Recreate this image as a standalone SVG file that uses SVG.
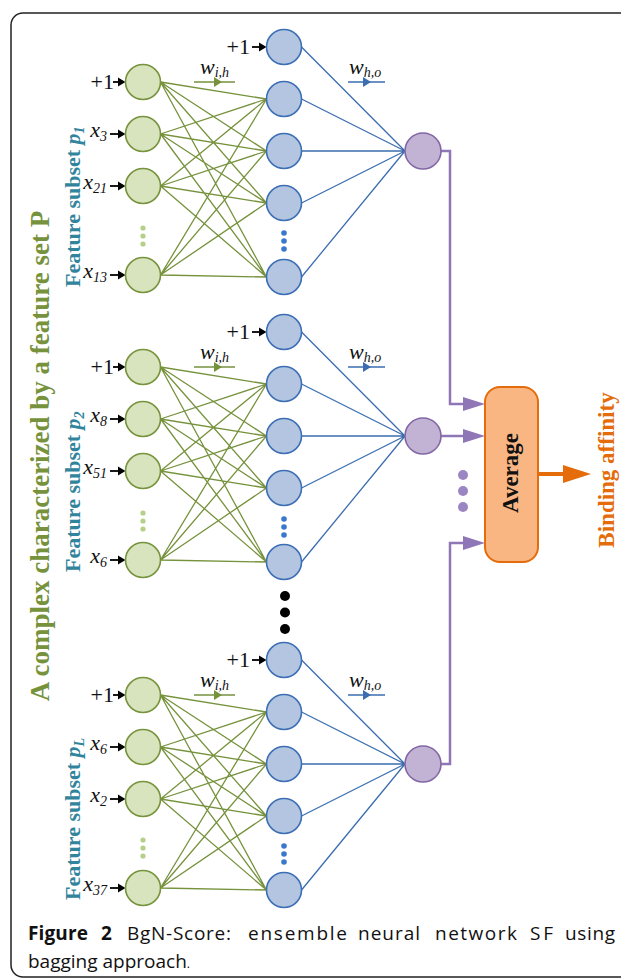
<svg xmlns="http://www.w3.org/2000/svg" width="621" height="979" viewBox="0 0 621 979">
<style>
.gn{fill:#d7e4bd;stroke:#77933c;stroke-width:1.6}
.bn{fill:#b3c5e0;stroke:#3d6fb5;stroke-width:1.6}
.pn{fill:#c2b3d4;stroke:#8266a6;stroke-width:1.6}
.gl{fill:none;stroke:#76923c;stroke-width:1.3}
.bl{fill:none;stroke:#3b6db0;stroke-width:1.3}
.pl{fill:none;stroke:#8f76b6;stroke-width:2.5}
.ka{stroke:#000;stroke-width:1.8}
.ser{font-family:"Liberation Serif","Times New Roman",serif;fill:#111}
.lbl{font-size:22px}
.it{font-style:italic}
.sub{font-size:14px;font-style:italic}
.fs{font-family:"Liberation Serif","Times New Roman",serif;font-weight:bold;font-size:22px;fill:#31849b}
.cap{font-family:"Open Sans","Noto Sans","DejaVu Sans",sans-serif;font-size:19px;fill:#111}
</style>
<rect x="11" y="13" width="625" height="964" rx="12" fill="none" stroke="#222" stroke-width="1.5"/>

<!-- side labels -->
<text transform="translate(49,456) rotate(-90)" text-anchor="middle" font-family="Liberation Serif,Times New Roman,serif" font-weight="bold" font-size="27" fill="#76923c">A complex characterized by a feature set P</text>
<text class="fs" transform="translate(80,287) rotate(-90)">Feature subset <tspan font-style="italic">p</tspan><tspan font-size="14" font-style="italic" dy="4">1</tspan></text>
<text class="fs" transform="translate(80,572) rotate(-90)">Feature subset <tspan font-style="italic">p</tspan><tspan font-size="14" font-style="italic" dy="4">2</tspan></text>
<text class="fs" transform="translate(80,900) rotate(-90)">Feature subset <tspan font-style="italic">p</tspan><tspan font-size="14" font-style="italic" dy="4">L</tspan></text>

<g id="connectors">
<path class="gl" d="M160.5 82L266.5 99M160.5 82L266.5 151M160.5 82L266.5 203M160.5 82L266.5 277M160.5 134L266.5 99M160.5 134L266.5 151M160.5 134L266.5 203M160.5 134L266.5 277M160.5 186L266.5 99M160.5 186L266.5 151M160.5 186L266.5 203M160.5 186L266.5 277M160.5 275L266.5 99M160.5 275L266.5 151M160.5 275L266.5 203M160.5 275L266.5 277"/>
<path class="gl" d="M160.5 367L266.5 384M160.5 367L266.5 436M160.5 367L266.5 488M160.5 367L266.5 562M160.5 419L266.5 384M160.5 419L266.5 436M160.5 419L266.5 488M160.5 419L266.5 562M160.5 471L266.5 384M160.5 471L266.5 436M160.5 471L266.5 488M160.5 471L266.5 562M160.5 560L266.5 384M160.5 560L266.5 436M160.5 560L266.5 488M160.5 560L266.5 562"/>
<path class="gl" d="M160.5 695L266.5 712M160.5 695L266.5 764M160.5 695L266.5 816M160.5 695L266.5 890M160.5 747L266.5 712M160.5 747L266.5 764M160.5 747L266.5 816M160.5 747L266.5 890M160.5 799L266.5 712M160.5 799L266.5 764M160.5 799L266.5 816M160.5 799L266.5 890M160.5 888L266.5 712M160.5 888L266.5 764M160.5 888L266.5 816M160.5 888L266.5 890"/>
<path class="bl" d="M301.5 47L405 151M301.5 99L405 151M301.5 151L405 151M301.5 203L405 151M301.5 277L405 151"/>
<path class="bl" d="M301.5 332L405 436M301.5 384L405 436M301.5 436L405 436M301.5 488L405 436M301.5 562L405 436"/>
<path class="bl" d="M301.5 660L405 764M301.5 712L405 764M301.5 764L405 764M301.5 816L405 764M301.5 890L405 764"/>
<!-- input arrows -->
<g fill="#000">
<line class="ka" x1="113" y1="82" x2="120" y2="82"/><polygon points="118,77.5 125.5,82 118,86.5"/>
<line class="ka" x1="110" y1="134" x2="120" y2="134"/><polygon points="118,129.5 125.5,134 118,138.5"/>
<line class="ka" x1="110" y1="186" x2="120" y2="186"/><polygon points="118,181.5 125.5,186 118,190.5"/>
<line class="ka" x1="110" y1="275" x2="120" y2="275"/><polygon points="118,270.5 125.5,275 118,279.5"/>
<line class="ka" x1="252" y1="47" x2="261" y2="47"/><polygon points="259,42.5 266.5,47 259,51.5"/>
<line class="ka" x1="113" y1="367" x2="120" y2="367"/><polygon points="118,362.5 125.5,367 118,371.5"/>
<line class="ka" x1="110" y1="419" x2="120" y2="419"/><polygon points="118,414.5 125.5,419 118,423.5"/>
<line class="ka" x1="110" y1="471" x2="120" y2="471"/><polygon points="118,466.5 125.5,471 118,475.5"/>
<line class="ka" x1="110" y1="560" x2="120" y2="560"/><polygon points="118,555.5 125.5,560 118,564.5"/>
<line class="ka" x1="252" y1="332" x2="261" y2="332"/><polygon points="259,327.5 266.5,332 259,336.5"/>
<line class="ka" x1="113" y1="695" x2="120" y2="695"/><polygon points="118,690.5 125.5,695 118,699.5"/>
<line class="ka" x1="110" y1="747" x2="120" y2="747"/><polygon points="118,742.5 125.5,747 118,751.5"/>
<line class="ka" x1="110" y1="799" x2="120" y2="799"/><polygon points="118,794.5 125.5,799 118,803.5"/>
<line class="ka" x1="110" y1="888" x2="120" y2="888"/><polygon points="118,883.5 125.5,888 118,892.5"/>
<line class="ka" x1="252" y1="660" x2="261" y2="660"/><polygon points="259,655.5 266.5,660 259,664.5"/>
</g>
<!-- weight marks -->
<g>
<line x1="194" y1="82" x2="235" y2="82" stroke="#76923c" stroke-width="1.5"/><polygon points="214,77 222,82 214,87" fill="#76923c"/>
<line x1="348" y1="82" x2="385" y2="82" stroke="#3b6db0" stroke-width="1.5"/><polygon points="363,77 371,82 363,87" fill="#3b6db0"/>
<line x1="194" y1="367" x2="235" y2="367" stroke="#76923c" stroke-width="1.5"/><polygon points="214,362 222,367 214,372" fill="#76923c"/>
<line x1="348" y1="367" x2="385" y2="367" stroke="#3b6db0" stroke-width="1.5"/><polygon points="363,362 371,367 363,372" fill="#3b6db0"/>
<line x1="194" y1="695" x2="235" y2="695" stroke="#76923c" stroke-width="1.5"/><polygon points="214,690 222,695 214,700" fill="#76923c"/>
<line x1="348" y1="695" x2="385" y2="695" stroke="#3b6db0" stroke-width="1.5"/><polygon points="363,690 371,695 363,700" fill="#3b6db0"/>
</g>
<!-- purple to average -->
<polyline class="pl" points="441,151 450,151 450,404 466,404"/><polygon points="463,397 485,404 463,411" fill="#8f76b6"/>
<line class="pl" x1="441" y1="436" x2="466" y2="436"/><polygon points="463,429 485,436 463,443" fill="#8f76b6"/>
<polyline class="pl" points="441,764 450,764 450,543 466,543"/><polygon points="463,536 485,543 463,550" fill="#8f76b6"/>
<!-- output arrow -->
<line x1="538" y1="474" x2="566" y2="474" stroke="#e46c0a" stroke-width="4"/><polygon points="563,465 591,474 563,483" fill="#e46c0a"/>
</g>

<!-- ellipsis dots -->
<g fill="#b6d08a"><circle cx="143" cy="228" r="2.6"/><circle cx="143" cy="236" r="2.6"/><circle cx="143" cy="244" r="2.6"/>
<circle cx="143" cy="513" r="2.6"/><circle cx="143" cy="521" r="2.6"/><circle cx="143" cy="529" r="2.6"/>
<circle cx="143" cy="840" r="2.6"/><circle cx="143" cy="848" r="2.6"/><circle cx="143" cy="856" r="2.6"/></g>
<g fill="#3a78cc"><circle cx="284" cy="233" r="2.8"/><circle cx="284" cy="241" r="2.8"/><circle cx="284" cy="249" r="2.8"/>
<circle cx="284" cy="519" r="2.8"/><circle cx="284" cy="527" r="2.8"/><circle cx="284" cy="535" r="2.8"/>
<circle cx="284" cy="846" r="2.8"/><circle cx="284" cy="854" r="2.8"/><circle cx="284" cy="862" r="2.8"/></g>
<g fill="#000"><circle cx="285" cy="596" r="5"/><circle cx="285" cy="612.5" r="5"/><circle cx="285" cy="629" r="5"/></g>
<g fill="#9a86c2"><circle cx="463" cy="475" r="5"/><circle cx="463" cy="491" r="5"/><circle cx="463" cy="507" r="5"/></g>

<!-- labels -->
<g class="ser lbl">
<text x="114" y="89" text-anchor="end">+1</text>
<text x="107" y="137" text-anchor="end" class="it">x<tspan class="sub" dy="4">3</tspan></text>
<text x="107" y="189" text-anchor="end" class="it">x<tspan class="sub" dy="4">21</tspan></text>
<text x="107" y="278" text-anchor="end" class="it">x<tspan class="sub" dy="4">13</tspan></text>
<text x="250" y="54" text-anchor="end">+1</text>
<text x="114" y="374" text-anchor="end">+1</text>
<text x="107" y="422" text-anchor="end" class="it">x<tspan class="sub" dy="4">8</tspan></text>
<text x="107" y="474" text-anchor="end" class="it">x<tspan class="sub" dy="4">51</tspan></text>
<text x="107" y="563" text-anchor="end" class="it">x<tspan class="sub" dy="4">6</tspan></text>
<text x="250" y="339" text-anchor="end">+1</text>
<text x="114" y="702" text-anchor="end">+1</text>
<text x="107" y="750" text-anchor="end" class="it">x<tspan class="sub" dy="4">6</tspan></text>
<text x="107" y="802" text-anchor="end" class="it">x<tspan class="sub" dy="4">2</tspan></text>
<text x="107" y="891" text-anchor="end" class="it">x<tspan class="sub" dy="4">37</tspan></text>
<text x="250" y="667" text-anchor="end">+1</text>
<text x="200" y="74" class="it">w<tspan class="sub" dy="3">i,h</tspan></text>
<text x="349" y="74" class="it">w<tspan class="sub" dy="3">h,o</tspan></text>
<text x="200" y="359" class="it">w<tspan class="sub" dy="3">i,h</tspan></text>
<text x="349" y="359" class="it">w<tspan class="sub" dy="3">h,o</tspan></text>
<text x="200" y="687" class="it">w<tspan class="sub" dy="3">i,h</tspan></text>
<text x="349" y="687" class="it">w<tspan class="sub" dy="3">h,o</tspan></text>
</g>

<!-- nodes network p1 -->
<g id="p1-in-bias"><circle class="gn" cx="143" cy="82" r="17.5"/></g>
<g id="p1-in-x3"><circle class="gn" cx="143" cy="134" r="17.5"/></g>
<g id="p1-in-x21"><circle class="gn" cx="143" cy="186" r="17.5"/></g>
<g id="p1-in-x13"><circle class="gn" cx="143" cy="275" r="17.5"/></g>
<g id="p1-h-bias"><circle class="bn" cx="284" cy="47" r="17.5"/></g>
<g id="p1-h1"><circle class="bn" cx="284" cy="99" r="17.5"/></g>
<g id="p1-h2"><circle class="bn" cx="284" cy="151" r="17.5"/></g>
<g id="p1-h3"><circle class="bn" cx="284" cy="203" r="17.5"/></g>
<g id="p1-hn"><circle class="bn" cx="284" cy="277" r="17.5"/></g>
<g id="p1-out"><circle class="pn" cx="423" cy="151" r="18"/></g>
<!-- p2 -->
<g id="p2-in-bias"><circle class="gn" cx="143" cy="367" r="17.5"/></g>
<g id="p2-in-x8"><circle class="gn" cx="143" cy="419" r="17.5"/></g>
<g id="p2-in-x51"><circle class="gn" cx="143" cy="471" r="17.5"/></g>
<g id="p2-in-x6"><circle class="gn" cx="143" cy="560" r="17.5"/></g>
<g id="p2-h-bias"><circle class="bn" cx="284" cy="332" r="17.5"/></g>
<g id="p2-h1"><circle class="bn" cx="284" cy="384" r="17.5"/></g>
<g id="p2-h2"><circle class="bn" cx="284" cy="436" r="17.5"/></g>
<g id="p2-h3"><circle class="bn" cx="284" cy="488" r="17.5"/></g>
<g id="p2-hn"><circle class="bn" cx="284" cy="562" r="17.5"/></g>
<g id="p2-out"><circle class="pn" cx="423" cy="436" r="18"/></g>
<!-- pL -->
<g id="pL-in-bias"><circle class="gn" cx="143" cy="695" r="17.5"/></g>
<g id="pL-in-x6"><circle class="gn" cx="143" cy="747" r="17.5"/></g>
<g id="pL-in-x2"><circle class="gn" cx="143" cy="799" r="17.5"/></g>
<g id="pL-in-x37"><circle class="gn" cx="143" cy="888" r="17.5"/></g>
<g id="pL-h-bias"><circle class="bn" cx="284" cy="660" r="17.5"/></g>
<g id="pL-h1"><circle class="bn" cx="284" cy="712" r="17.5"/></g>
<g id="pL-h2"><circle class="bn" cx="284" cy="764" r="17.5"/></g>
<g id="pL-h3"><circle class="bn" cx="284" cy="816" r="17.5"/></g>
<g id="pL-hn"><circle class="bn" cx="284" cy="890" r="17.5"/></g>
<g id="pL-out"><circle class="pn" cx="423" cy="764" r="18"/></g>

<g id="average">
<rect x="485" y="387" width="53" height="175" rx="15" fill="#f9b683" stroke="#e46c0a" stroke-width="2"/>
<text transform="translate(518,473) rotate(-90)" text-anchor="middle" font-family="Liberation Serif,Times New Roman,serif" font-weight="bold" font-size="23" fill="#111">Average</text>
</g>
<g id="binding-affinity">
<text transform="translate(614,470) rotate(-90)" text-anchor="middle" font-family="Liberation Serif,Times New Roman,serif" font-weight="bold" font-size="23" fill="#e46c0a">Binding affinity</text>
</g>

<!-- caption -->
<g class="cap">
<text x="28" y="940" font-weight="bold" textLength="60" lengthAdjust="spacing">Figure</text>
<text x="101" y="940" font-weight="bold">2</text>
<text x="127" y="940" textLength="104" lengthAdjust="spacing">BgN-Score:</text>
<text x="248" y="940" textLength="99" lengthAdjust="spacing">ensemble</text>
<text x="358" y="940" textLength="62" lengthAdjust="spacing">neural</text>
<text x="435" y="940" textLength="82" lengthAdjust="spacing">network</text>
<text x="530" y="940" textLength="23" lengthAdjust="spacing">SF</text>
<text x="565" y="940" textLength="50" lengthAdjust="spacing">using</text>
<text x="28" y="968">bagging approach<tspan font-size="12">.</tspan></text>
</g>
</svg>
